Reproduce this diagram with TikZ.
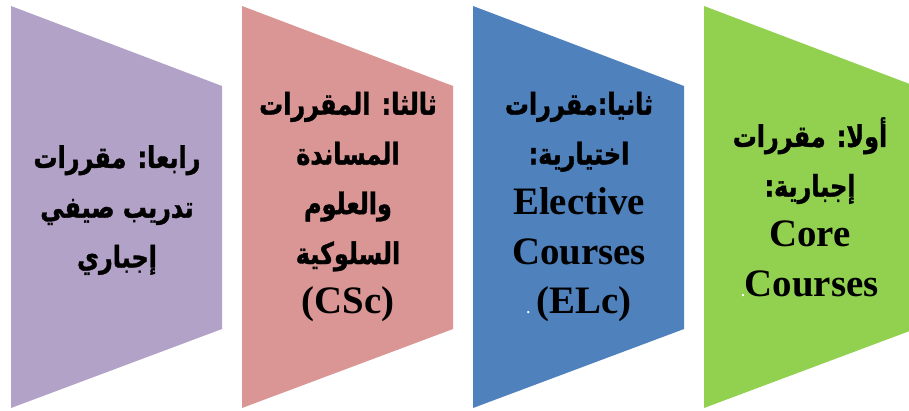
\documentclass[tikz,border=0pt]{standalone}
\usepackage{fontspec}
\setmainfont{Liberation Serif}
\newfontfamily\arabicfont[Script=Arabic, FakeStretch=0.8, FakeBold=1.2]{DejaVu Sans}
\TeXXeTstate=1
\usetikzlibrary{
    positioning
}
\definecolor{PanelLavender}{RGB}{179,162,199}
\definecolor{PanelRose}{RGB}{217,150,148}
\definecolor{PanelBlue}{RGB}{79,129,189}
\definecolor{PanelGreen}{RGB}{146,208,80}
\newcommand{\arline}[1]{{\arabicfont\bfseries\fontsize{30}{50}\selectfont\beginR #1\endR}}
\newcommand{\smalldot}{{\color{white}\fontsize{14}{50}\selectfont.}}

\begin{document}
\begin{tikzpicture}[
    x=1bp,
    y=-1bp,
    panel/.style={draw=none},
    paneltext/.style={align=center, text=black,
        font=\bfseries\fontsize{39}{50}\selectfont}
]

% Frame
\useasboundingbox (0,0) rectangle (909,410);
\clip (0,0) rectangle (909,410);

% Panels
\foreach \i/\col in {0/PanelLavender, 1/PanelRose, 2/PanelBlue, 3/PanelGreen}
    \fill[panel, \col]
        (11+231*\i,6) -- ++(211,80) -- ++(0,243) -- ++(-211,79) -- cycle;

% Fourth
\node[paneltext] (fourth) at (117,210)
    {\arline{رابعا: مقررات}\\
     \arline{تدريب صيفي}\\
     \arline{إجباري}};

% Third
\node[paneltext] (third) at (348,207)
    {\arline{ثالثا: المقررات}\\
     \arline{المساندة}\\
     \arline{والعلوم}\\
     \arline{السلوكية}\\
     (CSc)};

% Second
\node[paneltext] (second) at (579,207)
    {\arline{ثانيا:مقررات}\\
     \arline{اختيارية:}\\
     Elective\\
     Courses\\
     \smalldot\,(ELc)};

% First
\node[paneltext] (first) at (810,207)
    {\arline{أولا: مقررات}\\
     \arline{إجبارية:}\\
     Core\\
     \smalldot Courses};

\end{tikzpicture}
\end{document}
